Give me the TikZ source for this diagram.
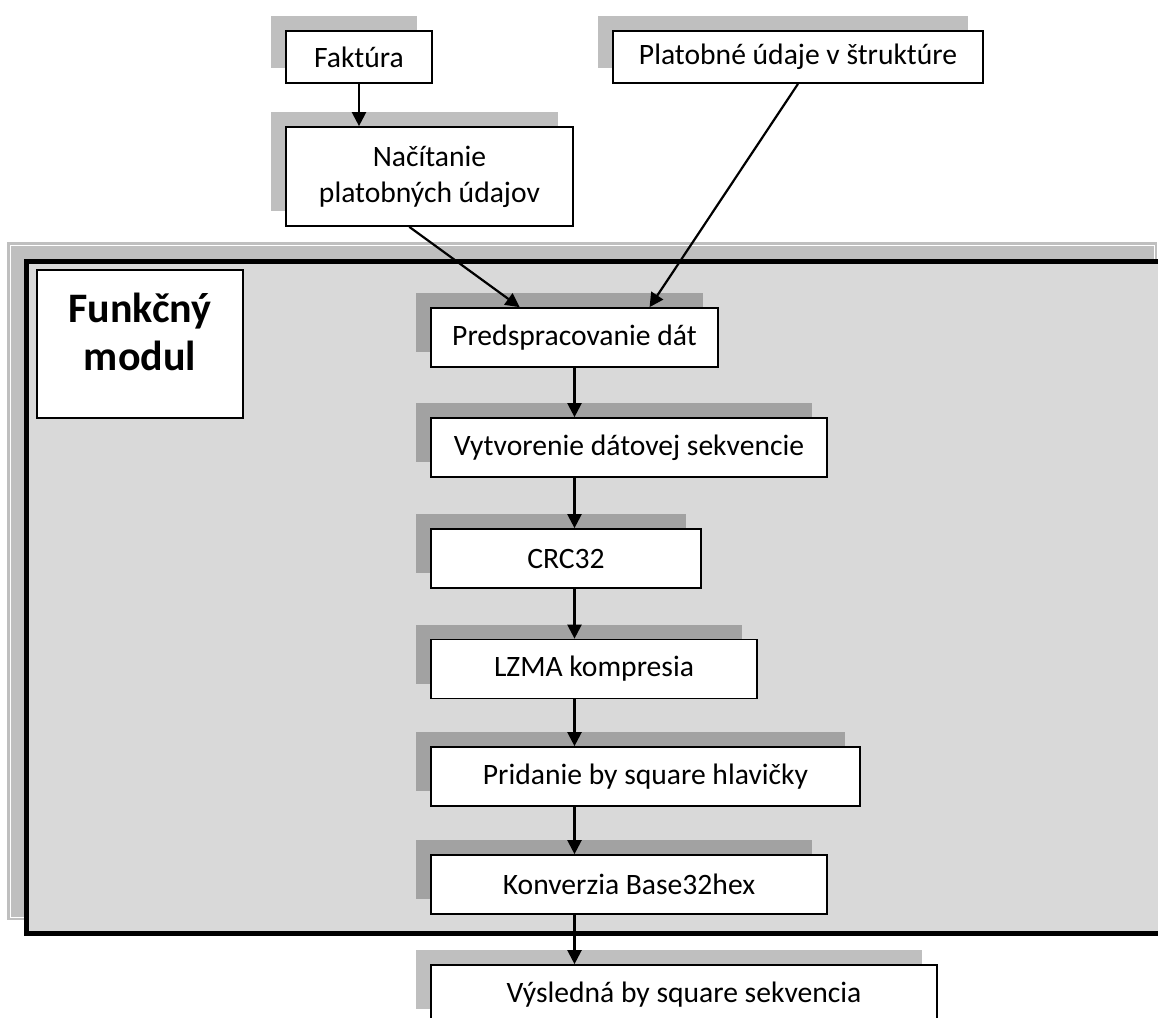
\documentclass[tikz,border=0pt]{standalone}
\usepackage{fontspec}
\setmainfont{Carlito}
\usetikzlibrary{arrows.meta,positioning,calc,shadows}

\begin{document}
\begin{tikzpicture}[
  x=0.5pt, y=-0.5pt,
  box/.style={draw, fill=white, line width=0.85pt, align=center, inner sep=0pt,
              minimum height=29.5pt, font=\fontsize{14.8}{18}\selectfont,
              drop shadow={fill=black, opacity=0.25, shadow xshift=-7.5pt, shadow yshift=7.5pt}},
  arr/.style={-{Triangle[length=7pt,width=7pt]}, line width=1.1pt},
  frame/.style={draw=black, line width=2.5pt, fill=black!15}
]
  \useasboundingbox (0,0) rectangle (1158,1018);

  % functional module frame
  \fill[black!25] (7,242) rectangle (1157,920);
  \draw[white, line width=0.4pt] (10,245) rectangle (1154,917);
  \draw[frame] (26,261.5) rectangle (1175,933.5);
  \node[draw, fill=white, line width=0.85pt, minimum width=103pt, minimum height=74pt,
        align=center, text depth=12pt,
        font=\bfseries\fontsize{21}{24}\selectfont] (modul) at (140,344) {Funkčný\\modul};

  % inputs
  \node[box, minimum width=73pt, minimum height=26pt] (fakt) at (359,57) {Faktúra};
  \node[box, minimum width=185pt, minimum height=26pt] (plat) at (798,57) {Platobné údaje v štruktúre};
  \node[box, minimum width=143.5pt, minimum height=49.5pt] (nacit) at (429.5,176.5) {Načítanie\\platobných údajov};

  % processing steps
  \node[box, minimum width=143.5pt] (pre) at (574.5,337.5) {Predspracovanie dát};
  \node[box, minimum width=198pt] (vyt) at (629,447.5) {Vytvorenie dátovej sekvencie};
  \node[box, minimum width=135pt] (crc) at (566,558.5) {CRC32};
  \node[box, minimum width=163pt] (lzma) at (594,669) {LZMA kompresia};
  \node[box, minimum width=214.5pt] (hlav) at (645.5,776.5) {Pridanie by square hlavičky};
  \node[box, minimum width=198pt] (konv) at (629,884.5) {Konverzia Base32hex};
  \node[box, minimum width=253pt] (vysl) at (684,994.5) {Výsledná by square sekvencia};

  \coordinate (nacitOut) at ($(nacit.south west)!0.43!(nacit.south east)$);
  \coordinate (preL) at ($(pre.north west)!0.31!(pre.north east)$);
  \coordinate (preR) at ($(pre.north west)!0.76!(pre.north east)$);

  \draw[arr] (fakt) -- (fakt |- nacit.north);
  \draw[arr] (nacitOut) -- (preL);
  \draw[arr] (plat.south) -- (preR);
  \foreach \a/\b in {pre/vyt, vyt/crc, crc/lzma, lzma/hlav, hlav/konv, konv/vysl}
    \draw[arr] (\a.south -| pre.south) -- (\b.north -| pre.south);
\end{tikzpicture}
\end{document}
